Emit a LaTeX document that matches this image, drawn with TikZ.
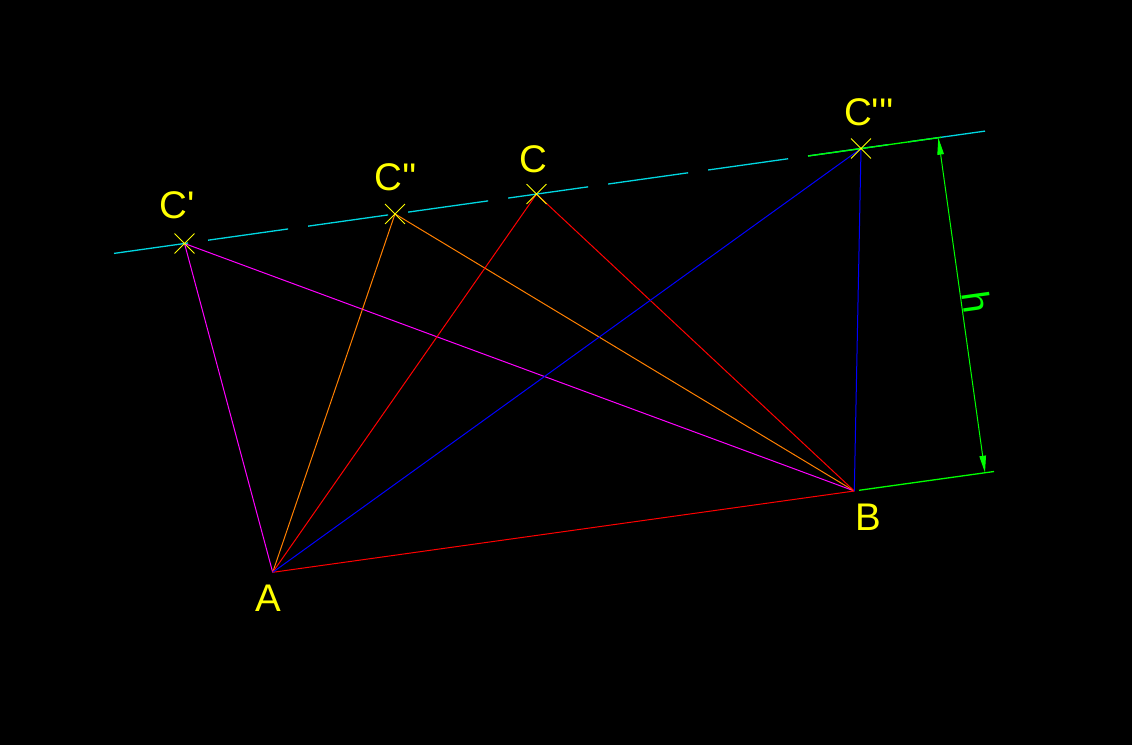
\documentclass[tikz,border=0pt]{standalone}
\usepackage{fontspec}
\setmainfont{Liberation Sans}[Ligatures=TeXOff]
\usetikzlibrary{arrows.meta,shapes.misc}
\definecolor{ylw}{RGB}{255,255,0}
\definecolor{mag}{RGB}{255,0,255}
\definecolor{org}{RGB}{255,128,0}
\definecolor{rd}{RGB}{255,0,0}
\definecolor{bl}{RGB}{0,0,255}
\definecolor{cy}{RGB}{0,215,225}
\definecolor{gr}{RGB}{0,255,0}
\begin{document}
\begin{tikzpicture}[x=1pt,y=-1pt,
  lbl/.style={text=ylw,font=\fontsize{38.5}{40}\selectfont,inner sep=0pt,anchor=base},
  pt/.style={draw=ylw,cross out,minimum size=19pt,inner sep=0pt,line width=0.9pt},
  seg/.style={line width=1pt},
  gline/.style={draw=gr,line width=1.3pt}]
\fill[black] (0,0) rectangle (1132,745);
\useasboundingbox (0,0) rectangle (1132,745);
% points
\coordinate (A) at (272.7,572.3);
\coordinate (B) at (854.3,491);
\coordinate (C1) at (184.5,243.5);
\coordinate (C2) at (395,213.9);
\coordinate (C) at (536.5,194.1);
\coordinate (C3) at (861,148.5);
\coordinate (L1) at (114,253.4);
\coordinate (L2) at (985,131.1);
\coordinate (G1) at (808,156.0);
\coordinate (G2) at (941,137.3);
\coordinate (G3) at (859,490.3);
\coordinate (G4) at (994,471.5);
\coordinate (D1) at (938.3,137.7);
\coordinate (D2) at (985,472.7);
% triangles
\draw[seg,mag] (C1) -- (A) (C1) -- (B);
\draw[seg,org] (C2) -- (A) (C2) -- (B);
\draw[seg,rd] (C) -- (A) (C) -- (B) (A) -- (B);
\draw[seg,bl] (C3) -- (A) (C3) -- (B);
% parallel line
\draw[cy,line width=1.3pt,dash pattern=on 80.8pt off 20.2pt,dash phase=6pt] (L1) -- (L2);
% dimension
\draw[gline] (G1) -- (G2);
\draw[gline] (G3) -- (G4);
\draw[draw=gr,line width=1pt,{Triangle[length=17pt,width=6.5pt,fill=gr]}-{Triangle[length=17pt,width=6.5pt,fill=gr]}] (D1) -- (D2);
\node[text=gr,font=\fontsize{38.5}{40}\selectfont,inner sep=0pt,rotate=-82] (h) at (976.5,302) {h};
% point marks
\node[pt] (x1) at (C1) {};
\node[pt] (x2) at (C2) {};
\node[pt] (x0) at (C) {};
\node[pt] (x3) at (C3) {};
% labels
\node[lbl] (tC1) at (177,218.5) {C'};
\node[lbl] (tC2) at (395.5,190.5) {C''};
\node[lbl] (tC) at (533,172.5) {C};
\node[lbl] (tC3) at (869,125.5) {C'''};
\node[lbl] (tA) at (268.5,611) {A};
\node[lbl] (tB) at (868,530) {B};
\end{tikzpicture}
\end{document}
